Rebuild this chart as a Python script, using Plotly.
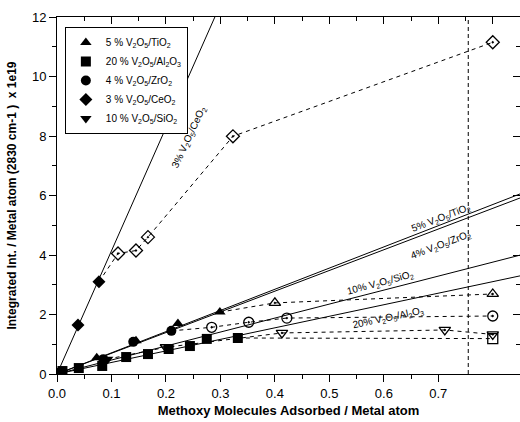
import plotly.graph_objects as go

# ---------------- data ----------------
ti_fill_x = [0.005, 0.073, 0.145, 0.222, 0.299]
ti_fill_y = [0.05, 0.55, 1.12, 1.70, 2.08]
ti_open_x = [0.40, 0.80]
ti_open_y = [2.39, 2.69]

al_fill_x = [0.01, 0.04, 0.083, 0.127, 0.167, 0.205, 0.244, 0.275, 0.332]
al_fill_y = [0.10, 0.20, 0.27, 0.57, 0.67, 0.84, 0.94, 1.18, 1.21]
al_open_x = [0.80]
al_open_y = [1.19]

zr_fill_x = [0.005, 0.085, 0.14, 0.21]
zr_fill_y = [0.05, 0.50, 1.08, 1.45]
zr_open_x = [0.284, 0.352, 0.422, 0.80]
zr_open_y = [1.57, 1.74, 1.88, 1.95]

ce_fill_x = [0.005, 0.0385, 0.077]
ce_fill_y = [0.05, 1.65, 3.10]
ce_open_x = [0.112, 0.145, 0.167, 0.323, 0.80]
ce_open_y = [4.05, 4.15, 4.60, 7.99, 11.15]

si_fill_x = [0.01, 0.093]
si_fill_y = [0.05, 0.50]
si_open_x = [0.20, 0.413, 0.712, 0.80]
si_open_y = [0.90, 1.38, 1.48, 1.33]

# fitted line slopes (through origin)
fit_names = ["TiO2", "ZrO2", "SiO2", "Al2O3", "CeO2"]
fit_slopes = [7.12, 6.96, 4.70, 3.88, 41.4]
fit_xmax = [0.85, 0.85, 0.85, 0.85, 0.29]

legend_labels = [
    "5 % V<sub>2</sub>O<sub>5</sub>/TiO<sub>2</sub>",
    "20 % V<sub>2</sub>O<sub>5</sub>/Al<sub>2</sub>O<sub>3</sub>",
    "4 % V<sub>2</sub>O<sub>5</sub>/ZrO<sub>2</sub>",
    "3 % V<sub>2</sub>O<sub>5</sub>/CeO<sub>2</sub>",
    "10 % V<sub>2</sub>O<sub>5</sub>/SiO<sub>2</sub>",
]

line_labels = [
    "3% V<sub>2</sub>O<sub>5</sub>/CeO<sub>2</sub>",
    "5% V<sub>2</sub>O<sub>5</sub>/TiO<sub>2</sub>",
    "4% V<sub>2</sub>O<sub>5</sub>/ZrO<sub>2</sub>",
    "10% V<sub>2</sub>O<sub>5</sub>/SiO<sub>2</sub>",
    "20% V<sub>2</sub>O<sub>5</sub>/Al<sub>2</sub>O<sub>3</sub>",
]
line_label_x = [0.243, 0.705, 0.705, 0.593, 0.607]
line_label_y = [7.95, 5.24, 4.34, 3.06, 1.88]
line_label_angle = [-65, -21, -21, -15, -12]

x_break = 0.755
x_ticks = [0.0, 0.1, 0.2, 0.3, 0.4, 0.5, 0.6, 0.7]
x_ticktext = ["0.0", "0.1", "0.2", "0.3", "0.4", "0.5", "0.6", "0.7"]
x_minor = [0.05, 0.15, 0.25, 0.35, 0.45, 0.55, 0.65]
y_ticks = [0, 2, 4, 6, 8, 10, 12]

# ---------------- figure ----------------
fig = go.Figure()

# fit lines
for s, xm in zip(fit_slopes, fit_xmax):
    fig.add_trace(go.Scatter(x=[0, xm], y=[0, s * xm], mode="lines",
                             line=dict(color="black", width=1),
                             showlegend=False, hoverinfo="skip"))

series = [
    (ti_fill_x, ti_fill_y, ti_open_x, ti_open_y, "triangle-up", "triangle-up-open-dot", legend_labels[0]),
    (al_fill_x, al_fill_y, al_open_x, al_open_y, "square", "square-open", legend_labels[1]),
    (zr_fill_x, zr_fill_y, zr_open_x, zr_open_y, "circle", "circle-open-dot", legend_labels[2]),
    (ce_fill_x, ce_fill_y, ce_open_x, ce_open_y, "diamond", "diamond-open-dot", legend_labels[3]),
    (si_fill_x, si_fill_y, si_open_x, si_open_y, "triangle-down", "triangle-down-open-dot", legend_labels[4]),
]

# dashed connectors
for fx, fy, ox, oy, sym, osym, name in series:
    fig.add_trace(go.Scatter(x=[fx[-1]] + ox, y=[fy[-1]] + oy, mode="lines",
                             line=dict(color="black", width=1, dash="4px,4px"),
                             showlegend=False, hoverinfo="skip"))

# open markers
for fx, fy, ox, oy, sym, osym, name in series:
    fig.add_trace(go.Scatter(x=ox, y=oy, mode="markers",
                             marker=dict(symbol=osym, size=10, color="black",
                                         line=dict(color="black", width=1.3)),
                             showlegend=False, hoverinfo="skip"))

# filled markers (legend)
for fx, fy, ox, oy, sym, osym, name in series:
    fig.add_trace(go.Scatter(x=fx, y=fy, mode="markers", name=name,
                             marker=dict(symbol=sym, size=10, color="black",
                                         line=dict(color="black", width=0))))

# invisible trace for mirrored axes
fig.add_trace(go.Scatter(x=[0], y=[0], xaxis="x2", yaxis="y2", mode="markers",
                         marker=dict(opacity=0), showlegend=False, hoverinfo="skip"))

# vertical break line
fig.add_shape(type="line", x0=x_break, x1=x_break, y0=0, y1=1, xref="x", yref="paper",
              line=dict(color="black", width=1, dash="4px,3px"))

for t, xx, yy, a in zip(line_labels, line_label_x, line_label_y, line_label_angle):
    fig.add_annotation(x=xx, y=yy, text=t, showarrow=False, textangle=a,
                       font=dict(size=10, color="black", family="Liberation Sans, Arial"))

axis_font = dict(family="Liberation Sans, Arial", size=13, color="black")

fig.update_layout(
    width=520, height=422,
    margin=dict(l=57, r=0, t=17, b=48),
    plot_bgcolor="white", paper_bgcolor="white",
    font=axis_font,
    xaxis=dict(range=[0, 0.85], showgrid=False, zeroline=False, showline=True,
               linecolor="black", linewidth=1, ticks="outside", ticklen=7,
               tickcolor="black", tickvals=x_ticks, ticktext=x_ticktext,
               automargin=False,
               minor=dict(ticks="outside", ticklen=4, tickcolor="black", tickvals=x_minor),
               title=dict(text="<b>Methoxy Molecules Adsorbed / Metal atom</b>",
                          font=dict(size=13), standoff=6)),
    yaxis=dict(range=[0, 12], showgrid=False, zeroline=False, showline=True,
               linecolor="black", linewidth=1, ticks="outside", ticklen=7,
               tickcolor="black", tickvals=y_ticks, automargin=False,
               minor=dict(ticks="outside", ticklen=4, tickcolor="black", dtick=1),
               title=dict(text="<b>Integrated Int. / Metal atom (2830 cm-1 )  x 1e19</b>",
                          font=dict(size=12), standoff=12)),
    xaxis2=dict(range=[0, 0.85], overlaying="x", side="top", showgrid=False, zeroline=False,
                showline=True, linecolor="black", linewidth=1, ticks="inside", ticklen=7,
                tickcolor="black", dtick=0.1, tick0=0, showticklabels=False, automargin=False,
                minor=dict(ticks="inside", ticklen=4, tickcolor="black", dtick=0.05)),
    yaxis2=dict(range=[0, 12], overlaying="y", side="right", showgrid=False, zeroline=False,
                showline=True, linecolor="black", linewidth=1, ticks="inside", ticklen=7,
                tickcolor="black", dtick=2, tick0=0, showticklabels=False, automargin=False,
                minor=dict(ticks="inside", ticklen=4, tickcolor="black", dtick=1)),
    legend=dict(x=0.017, y=0.972, xanchor="left", yanchor="top",
                bordercolor="black", borderwidth=1, bgcolor="white",
                font=dict(size=10, family="Liberation Sans, Arial"),
                itemwidth=30, tracegroupgap=0),
    showlegend=True,
)

fig.write_html("out.html", config={"displayModeBar": False},
               post_script="document.body.style.margin='0px';document.body.style.overflow='hidden';")
